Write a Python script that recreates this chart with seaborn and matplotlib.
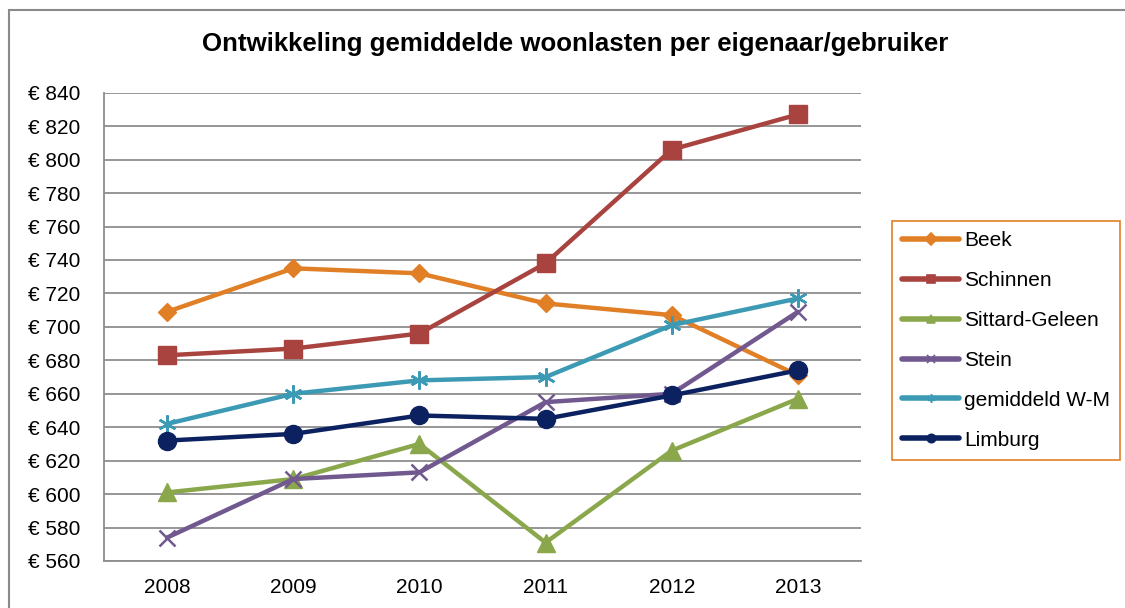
import pandas as pd
import seaborn as sns
import matplotlib.pyplot as plt
from matplotlib.lines import Line2D
from matplotlib.patches import Rectangle

# Set style
sns.set_theme(style="white")
plt.rcParams['font.family'] = ['Liberation Sans', 'DejaVu Sans']
plt.rcParams['text.color'] = '#000000'

# Configuration
OUTPUT_FILE = 'out.png'
TITLE = 'Ontwikkeling gemiddelde woonlasten per eigenaar/gebruiker'

# Data
YEARS = ['2008', '2009', '2010', '2011', '2012', '2013']
SERIES = ['Beek', 'Schinnen', 'Sittard-Geleen', 'Stein', 'gemiddeld W-M', 'Limburg']

BEEK = [709, 735, 732, 714, 707, 671]
SCHINNEN = [683, 687, 696, 738, 806, 827]
SITTARD_GELEEN = [601, 609, 630, 571, 626, 657]
STEIN = [574, 609, 613, 655, 660, 709]
GEMIDDELD_WM = [642, 660, 668, 670, 701, 717]
LIMBURG = [632, 636, 647, 645, 659, 674]

Y_TICKS = list(range(560, 841, 20))

# Styling per series: colour, marker, marker size, marker edge width
STYLES = {
    'Beek':           ('#E07F26', 'D', 9.0, 1.0),
    'Schinnen':       ('#A9433F', 's', 12.5, 1.0),
    'Sittard-Geleen': ('#8AA84B', '^', 12.5, 1.0),
    'Stein':          ('#71588F', 'x', 11.0, 1.8),
    'gemiddeld W-M':  ('#3D9AB4', (6, 2, 0), 13.0, 1.8),
    'Limburg':        ('#0C2260', 'o', 13.0, 1.0),
}


def build_frame():
    values = [BEEK, SCHINNEN, SITTARD_GELEEN, STEIN, GEMIDDELD_WM, LIMBURG]
    rows = []
    for name, vals in zip(SERIES, values):
        for i, v in enumerate(vals):
            rows.append({'series': name, 'pos': i, 'year': YEARS[i], 'value': v})
    return pd.DataFrame(rows)


def make_chart():
    df = build_frame()

    fig = plt.figure(figsize=(11.25, 6.08), dpi=100)
    ax = fig.add_axes([104 / 1125, 1 - 561 / 608, (861 - 104) / 1125, (561 - 92.7) / 608])

    # 1. Lines
    for i, name in enumerate(SERIES):
        color, marker, ms, mew = STYLES[name]
        sub = df[df['series'] == name]
        sns.lineplot(
            data=sub, x='pos', y='value', ax=ax,
            color=color, linewidth=3.2,
            marker=marker, markersize=ms,
            markeredgecolor=color, markerfacecolor=color, markeredgewidth=mew,
            legend=False, zorder=3 + i,
        )

    # 2. Axes
    ax.set_xlim(-0.5, 5.5)
    ax.set_ylim(560, 840)
    ax.set_xticks(range(len(YEARS)))
    ax.set_xticklabels(YEARS)
    ax.set_yticks(Y_TICKS)
    ax.set_yticklabels([f'€ {t}' for t in Y_TICKS])
    ax.set_xlabel('')
    ax.set_ylabel('')
    ax.tick_params(axis='both', length=0, labelsize=15, colors='#000000')
    ax.tick_params(axis='y', pad=17)
    ax.tick_params(axis='x', pad=12)

    ax.yaxis.grid(True, color='#8e8e8e', linewidth=1.3)
    ax.set_axisbelow(True)
    for side in ['top', 'right']:
        ax.spines[side].set_visible(False)
    for side in ['left', 'bottom']:
        ax.spines[side].set_color('#8e8e8e')
        ax.spines[side].set_linewidth(1.3)

    # 3. Title
    fig.text(0.511, 1 - 44 / 608, TITLE, ha='center', va='center',
             fontsize=18.6, fontweight='bold', color='#000000')

    # 4. Legend
    handles = []
    for name in SERIES:
        color, marker, ms, mew = STYLES[name]
        handles.append(Line2D([0], [0], color=color, linewidth=4, marker=marker,
                              markersize=6, markeredgecolor=color,
                              markerfacecolor=color, markeredgewidth=1.2))
    leg = fig.legend(handles, SERIES, loc='upper left',
                     bbox_to_anchor=(892 / 1125, 1 - 221 / 608),
                     bbox_transform=fig.transFigure, borderaxespad=0,
                     fontsize=15, frameon=True, fancybox=False, framealpha=1,
                     handlelength=2.7, handletextpad=0.25,
                     labelspacing=1.0, borderpad=0.5, labelcolor='#000000')
    leg.get_frame().set_edgecolor('#E07F26')
    leg.get_frame().set_linewidth(1.2)

    # 5. Outer chart border
    fig.patches.append(Rectangle((9 / 1125, -0.1), 2, 1 - 10 / 608 + 0.1,
                                 transform=fig.transFigure, fill=False,
                                 edgecolor='#8a8a8a', linewidth=1.5))

    fig.savefig(OUTPUT_FILE, dpi=100)
    print(f" Chart saved to '{OUTPUT_FILE}'")


if __name__ == "__main__":
    make_chart()
